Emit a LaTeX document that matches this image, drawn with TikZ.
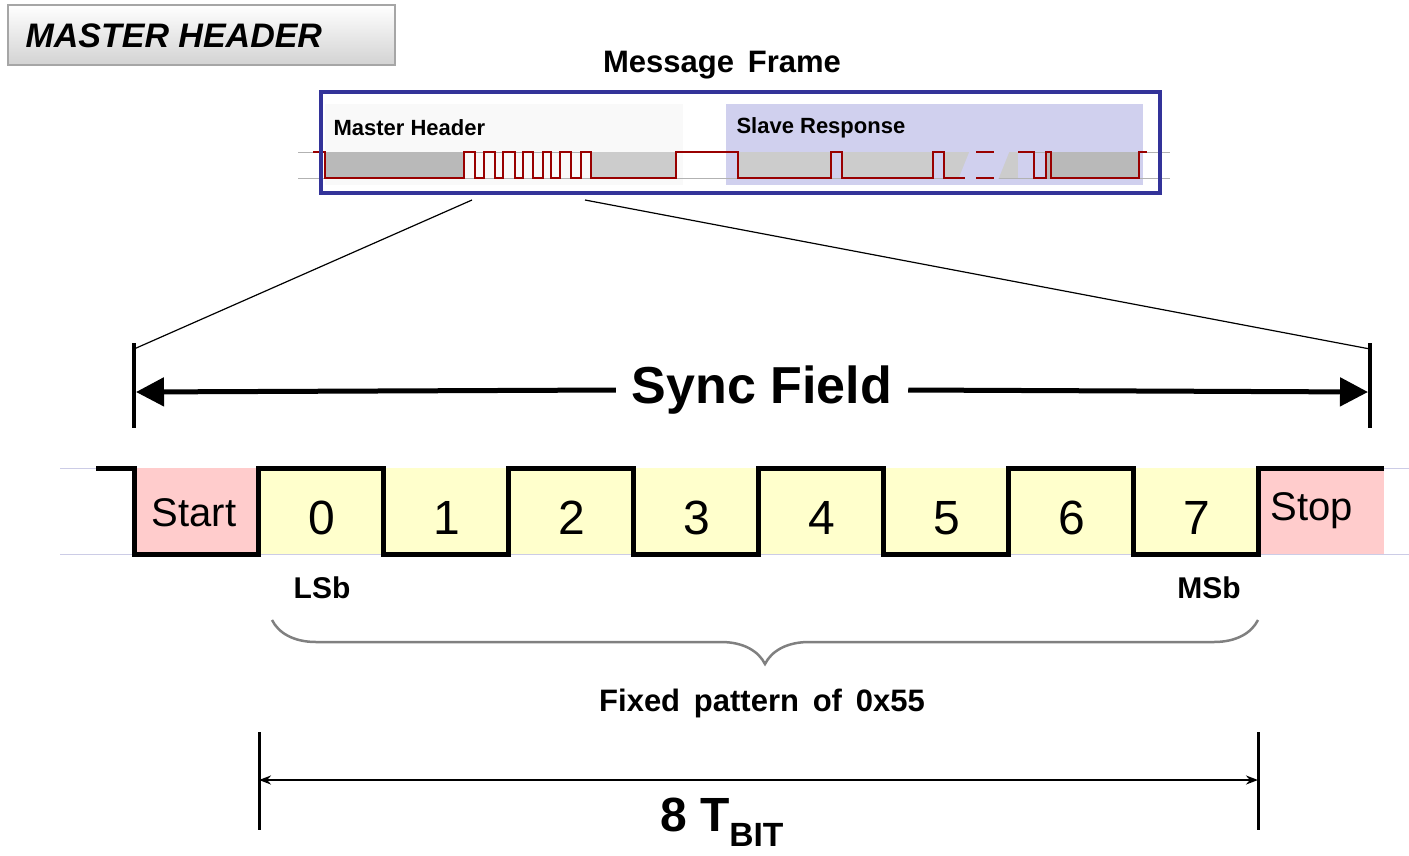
\documentclass[tikz,border=0pt]{standalone}
\usepackage{fontspec}
\setmainfont{Liberation Sans}
\usetikzlibrary{arrows.meta,decorations.pathreplacing}
\definecolor{framebl}{RGB}{51,51,153}
\definecolor{sigred}{RGB}{153,0,0}
\definecolor{slavebg}{RGB}{208,208,238}
\definecolor{cellyel}{RGB}{255,255,204}
\definecolor{cellpink}{RGB}{255,204,204}
\tikzset{
  cell/.style     = {draw=none, fill=cellyel, minimum width=125pt, minimum height=86pt, inner sep=0pt},
  endcell/.style  = {draw=none, fill=cellpink, minimum width=125pt, minimum height=86pt, inner sep=0pt},
  bitlbl/.style   = {font=\fontsize{48}{50}\selectfont},
  smalllbl/.style = {font=\bfseries\fontsize{22}{24}\selectfont, anchor=west},
  guide/.style    = {draw=gray!60, line width=1pt}
}
\begin{document}
\begin{tikzpicture}[x=1pt, y=-1pt]
\useasboundingbox (0,0) rectangle (1409,855);

% Header tag
\shade[top color=white, bottom color=gray!35, draw=gray!70, line width=1.5pt] (8,5) rectangle (395,65);
\node[font=\bfseries\itshape\fontsize{34}{36}\selectfont, anchor=west] (tag) at (22,36) {MASTER HEADER};

% Message frame overview
\node[font=\bfseries\fontsize{31}{33}\selectfont] (title) at (722,65) {Message\, Frame};
\fill[gray!5] (325,104) rectangle (683,185);
\fill[slavebg] (726,104) rectangle (1143,185);
\draw[guide] (298,152) -- (1170,152);
\draw[guide] (298,178) -- (1170,178);
\fill[gray!55] (325,152) rectangle (464,178);
\foreach \a/\b in {591/676, 738/831, 842/933, 944/1018}
  \fill[gray!40] (\a,152) rectangle (\b,178);
\fill[gray!55] (1046,152) rectangle (1139,178);
\fill[slavebg] (970,150) -- (1010,150) -- (998,180) -- (958,180) -- cycle;
\draw[sigred, line width=1.5pt]
  (313,152) -- (325,152) -- (325,178) -- (464,178) -- (464,152) -- (475,152) -- (475,178)
  -- (484,178) -- (484,152) -- (495,152) -- (495,178) -- (503,178) -- (503,152) -- (515,152)
  -- (515,178) -- (523,178) -- (523,152) -- (533,152) -- (533,178) -- (543,178) -- (543,152)
  -- (551,152) -- (551,178) -- (560,178) -- (560,152) -- (571,152) -- (571,178) -- (581,178)
  -- (581,152) -- (591,152) -- (591,178) -- (676,178) -- (676,152) -- (738,152) -- (738,178)
  -- (831,178) -- (831,152) -- (842,152) -- (842,178) -- (933,178) -- (933,152) -- (944,152)
  -- (944,178) -- (965,178);
\draw[sigred, line width=1.5pt] (976,178) -- (994,178);
\draw[sigred, line width=1.5pt] (976,152) -- (994,152);
\draw[sigred, line width=1.5pt] (1018,152) -- (1034,152) -- (1034,178) -- (1046,178) -- (1046,152)
  -- (1051,152) -- (1051,178) -- (1139,178) -- (1139,152) -- (1147,152);
\node[smalllbl] (mh) at (330,128) {Master Header};
\node[smalllbl] (sr) at (733,128) {Slave Response};
\draw[framebl, line width=4pt] (321,92) rectangle (1160,193);
\coordinate (zl) at (472,200);
\coordinate (zr) at (585,200);

% Sync field span
\coordinate (sl) at (134,349);
\coordinate (sr2) at (1370,349);
\draw[line width=1.2pt] (zl) -- (sl);
\draw[line width=1.2pt] (zr) -- (sr2);
\draw[line width=4pt] (134,343) -- (134,428);
\draw[line width=4pt] (1370,343) -- (1370,428);
\node[font=\bfseries\fontsize{52}{54}\selectfont, fill=white, inner xsep=16pt] (sync) at (762,390) {Sync Field};
\draw[line width=5pt, -{Triangle[length=28pt, width=28pt]}] (sync.west) -- (136,392);
\draw[line width=5pt, -{Triangle[length=28pt, width=28pt]}] (sync.east) -- (1368,392);

% Bit cells
\draw[draw=framebl!25, line width=1pt] (60,468) -- (1409,468);
\draw[draw=framebl!25, line width=1pt] (60,554) -- (1409,554);
\node[endcell] (start) at (196,511) {};
\node[anchor=center, font=\fontsize{40}{42}\selectfont] (startl) at (194,513) {Start};
\foreach \i in {0,...,7}
  \node[cell] (b\i) at (320.5+125*\i,511) {};
\foreach \i in {0,...,7}
  \node[bitlbl] (l\i) at (322+125*\i,518) {\i};
\node[endcell] (stop) at (1321,511) {};
\node[font=\fontsize{40}{42}\selectfont] (stopl) at (1312,511) {Stop};
\draw[line width=5pt, line join=miter]
  (96,468) -- (134,468) -- (134,554) -- (258,554) -- (258,468) -- (383,468) -- (383,554)
  -- (508,554) -- (508,468) -- (633,468) -- (633,554) -- (758,554) -- (758,468) -- (883,468)
  -- (883,554) -- (1008,554) -- (1008,468) -- (1133,468) -- (1133,554) -- (1258,554)
  -- (1258,468) -- (1384,468);
\node[font=\bfseries\fontsize{30}{32}\selectfont] (lsb) at (322,588) {LSb};
\node[font=\bfseries\fontsize{30}{32}\selectfont] (msb) at (1209,588) {MSb};

% Pattern brace
\draw[gray, line width=2.5pt, decorate, decoration={brace, mirror, amplitude=44pt, aspect=0.5}] (272,620) -- (1258,620);
\node[font=\bfseries\fontsize{31}{33}\selectfont] (pat) at (762,703) {Fixed\, pattern\, of\, 0x55};

% Bit time
\draw[line width=3pt] (259,732) -- (259,830);
\draw[line width=3pt] (1258,732) -- (1258,830);
\coordinate (tl) at (259,780);
\coordinate (tr) at (1258,780);
\draw[line width=2pt, {Stealth[length=12pt]}-{Stealth[length=12pt]}] (tl) -- (tr);
\node[font=\bfseries\fontsize{48}{50}\selectfont] (tbit) at (722,822) {8 T\textsubscript{BIT}};
\end{tikzpicture}
\end{document}
